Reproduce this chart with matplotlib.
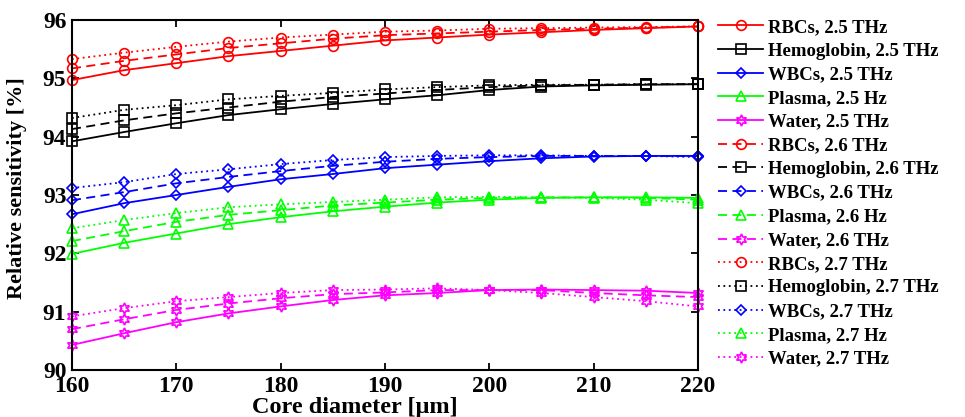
import matplotlib
matplotlib.use("Agg")
import matplotlib.pyplot as plt

# ── data ─────────────────────────────────────────────────────────────────────
core_d = [160, 165, 170, 175, 180, 185, 190, 195, 200, 205, 210, 215, 220]

rbc_25 = [94.97, 95.14, 95.26, 95.38, 95.47, 95.56, 95.65, 95.70, 95.75, 95.79, 95.83, 95.86, 95.89]
rbc_26 = [95.17, 95.30, 95.41, 95.52, 95.60, 95.68, 95.74, 95.77, 95.80, 95.83, 95.85, 95.87, 95.89]
rbc_27 = [95.33, 95.44, 95.54, 95.63, 95.70, 95.75, 95.80, 95.82, 95.85, 95.86, 95.87, 95.88, 95.89]

hb_25 = [93.92, 94.08, 94.23, 94.37, 94.47, 94.56, 94.64, 94.71, 94.80, 94.86, 94.88, 94.89, 94.90]
hb_26 = [94.13, 94.28, 94.40, 94.50, 94.60, 94.68, 94.74, 94.80, 94.85, 94.88, 94.89, 94.90, 94.90]
hb_27 = [94.32, 94.46, 94.54, 94.64, 94.70, 94.75, 94.81, 94.85, 94.88, 94.89, 94.89, 94.90, 94.90]

wbc_25 = [92.67, 92.86, 93.00, 93.14, 93.27, 93.36, 93.46, 93.52, 93.58, 93.63, 93.66, 93.67, 93.67]
wbc_26 = [92.91, 93.05, 93.20, 93.31, 93.41, 93.50, 93.57, 93.62, 93.65, 93.67, 93.67, 93.67, 93.67]
wbc_27 = [93.12, 93.22, 93.36, 93.44, 93.53, 93.60, 93.65, 93.67, 93.68, 93.68, 93.67, 93.67, 93.65]

pla_25 = [91.99, 92.18, 92.34, 92.50, 92.62, 92.72, 92.80, 92.87, 92.92, 92.95, 92.96, 92.96, 92.95]
pla_26 = [92.21, 92.38, 92.54, 92.66, 92.74, 92.82, 92.87, 92.92, 92.95, 92.96, 92.96, 92.95, 92.92]
pla_27 = [92.43, 92.57, 92.69, 92.79, 92.84, 92.88, 92.92, 92.96, 92.97, 92.96, 92.95, 92.92, 92.86]

wat_25 = [90.43, 90.63, 90.82, 90.97, 91.09, 91.20, 91.28, 91.32, 91.37, 91.38, 91.37, 91.36, 91.32]
wat_26 = [90.70, 90.87, 91.03, 91.14, 91.23, 91.30, 91.33, 91.37, 91.37, 91.37, 91.32, 91.28, 91.25]
wat_27 = [90.92, 91.06, 91.18, 91.25, 91.32, 91.37, 91.38, 91.40, 91.37, 91.32, 91.25, 91.18, 91.09]

series = [
    (rbc_25, "RBCs, 2.5 THz"), (hb_25, "Hemoglobin, 2.5 THz"), (wbc_25, "WBCs, 2.5 THz"),
    (pla_25, "Plasma, 2.5 Hz"), (wat_25, "Water, 2.5 THz"),
    (rbc_26, "RBCs, 2.6 THz"), (hb_26, "Hemoglobin, 2.6 THz"), (wbc_26, "WBCs, 2.6 THz"),
    (pla_26, "Plasma, 2.6 Hz"), (wat_26, "Water, 2.6 THz"),
    (rbc_27, "RBCs, 2.7 THz"), (hb_27, "Hemoglobin, 2.7 THz"), (wbc_27, "WBCs, 2.7 THz"),
    (pla_27, "Plasma, 2.7 Hz"), (wat_27, "Water, 2.7 THz"),
]

# ── styles ───────────────────────────────────────────────────────────────────
COLORS  = ["#FF0000", "#000000", "#0000FF", "#00FF00", "#FF00FF"]
MARKERS = ["o", "s", "D", "^", (6, 1, 0)]
MSIZES  = [7, 7, 5.5, 7, 8]
STYLES  = ["-", (0, (5, 3)), (0, (1, 2))]

plt.rcParams["font.family"] = ["Liberation Serif", "DejaVu Serif"]
plt.rcParams["font.weight"] = "bold"

fig = plt.figure(figsize=(9.65, 4.17), dpi=100)
ax = fig.add_axes([0.0746, 0.1127, 0.6487, 0.8393])

for i, (vals, lbl) in enumerate(series):
    k, f = i % 5, i // 5
    ax.plot(core_d, vals, color=COLORS[k], linestyle=STYLES[f], linewidth=1.3,
            marker=MARKERS[k], markersize=MSIZES[k], markerfacecolor="none",
            markeredgewidth=1.2, label=lbl, clip_on=False)

ax.set_xlim(160, 220)
ax.set_ylim(90, 96)
ax.set_xticks(range(160, 221, 10))
ax.set_yticks(range(90, 97))
ax.tick_params(direction="in", top=True, right=True, length=5, width=1.3,
               labelsize=17)
ax.tick_params(axis="x", pad=4)
ax.tick_params(axis="y", pad=4)
for lab in ax.get_xticklabels() + ax.get_yticklabels():
    lab.set_fontweight("bold")
for sp in ax.spines.values():
    sp.set_linewidth(1.5)

ax.set_xlabel("Core diameter [\u03bcm]", fontsize=17.5, fontweight="bold")
ax.set_ylabel("Relative sensitivity [%]", fontsize=16, fontweight="bold")
ax.xaxis.set_label_coords(0.452, -0.107)
ax.xaxis.label.set_va("center")
ax.yaxis.set_label_coords(-0.088, 0.52)
ax.yaxis.label.set_va("center")

ax.legend(loc="upper left", bbox_to_anchor=(1.02, 1.025), frameon=False,
          handlelength=2.4, handletextpad=0.28, labelspacing=0.35,
          borderaxespad=0.0, prop={"weight": "bold", "size": 13.5})

fig.savefig("out.png", dpi=100, facecolor="white")
